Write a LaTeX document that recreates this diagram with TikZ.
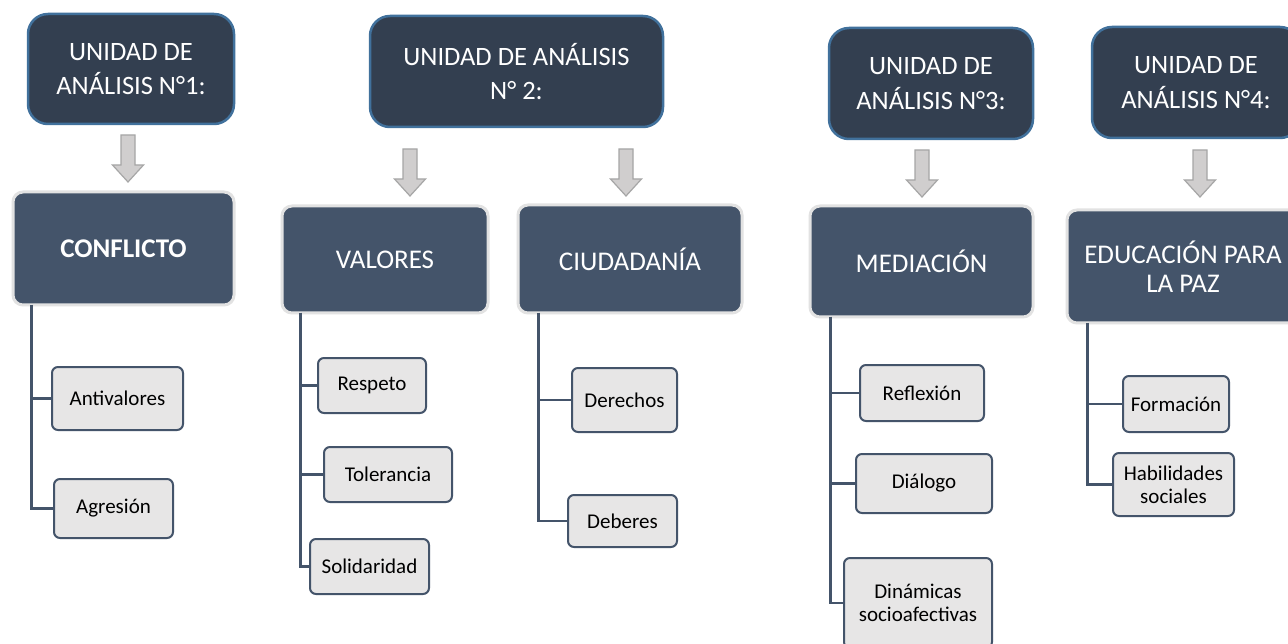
\documentclass[tikz,border=0pt]{standalone}
\usepackage{fontspec}
\setmainfont{Carlito}
\definecolor{topfill}{HTML}{333F50}
\definecolor{topborder}{HTML}{41719C}
\definecolor{catfill}{HTML}{44546A}
\definecolor{catborder}{HTML}{E2E2E2}
\definecolor{leaffill}{HTML}{E7E6E6}
\definecolor{leafborder}{HTML}{44546A}
\definecolor{arrowfill}{HTML}{D0CECE}
\definecolor{arrowborder}{HTML}{A6A6A6}
\tikzset{
 unit/.style={rectangle, rounded corners=20pt, fill=topfill, draw=topborder, line width=2.5pt, text=white, font=\fontsize{26.5}{34.5}\selectfont, align=center, inner sep=0pt},
 cat/.style={rectangle, rounded corners=10pt, fill=catfill, draw=catborder, line width=3pt, text=white, font=\fontsize{27}{29}\selectfont, align=center, inner sep=0pt},
 leaf/.style={rectangle, rounded corners=6pt, fill=leaffill, draw=leafborder, line width=2pt, font=\fontsize{21}{23}\selectfont, align=center, inner sep=0pt},
 conn/.style={draw=leafborder, line width=2.5pt},
 garrow/.style={fill=arrowfill, draw=arrowborder, line width=1.2pt, line join=miter},
 downarr/.pic={\draw[garrow] (-7pt,0pt) -- (7pt,0pt) -- (7pt,-30pt) -- (15.5pt,-30pt) -- (0pt,-47pt) -- (-15.5pt,-30pt) -- (-7pt,-30pt) -- cycle;}
}
\begin{document}
\begin{tikzpicture}[x=1pt,y=-1pt]
\clip (0,0) rectangle (1288,644);
\fill[white] (0,0) rectangle (1288,644);
% top units
\node[unit, minimum width=206pt, minimum height=110pt] (u1) at (131,69) {UNIDAD DE\\ANÁLISIS N°1:};
\node[unit, minimum width=293pt, minimum height=111pt] (u2) at (516.5,71.5) {UNIDAD DE ANÁLISIS\\N° 2:};
\node[unit, minimum width=204pt, minimum height=111pt] (u3) at (931,83.5) {UNIDAD DE\\ANÁLISIS N°3:};
\node[unit, minimum width=208pt, minimum height=111pt] (u4) at (1196,82.5) {UNIDAD DE\\ANÁLISIS N°4:};
% arrows
\pic at (128,135) {downarr};
\pic at (410,149) {downarr};
\pic at (626,149) {downarr};
\pic at (922,150) {downarr};
\pic at (1200,150) {downarr};
% leaves
\node[leaf, minimum width=131pt, minimum height=63pt] (anti) at (117.5,398.5) {Antivalores};
\node[leaf, minimum width=119pt, minimum height=59pt] (agre) at (113.5,508.5) {Agresión};
\node[leaf, minimum width=108pt, minimum height=55pt] (resp) at (372,385.5) {Respeto};
\node[leaf, minimum width=128pt, minimum height=55pt] (tole) at (388,474.5) {Tolerancia};
\node[leaf, minimum width=119pt, minimum height=55pt] (soli) at (369.5,566.5) {Solidaridad};
\node[leaf, minimum width=105pt, minimum height=64pt] (dere) at (624.5,400) {Derechos};
\node[leaf, minimum width=109pt, minimum height=52pt] (debe) at (622.5,521) {Deberes};
\node[leaf, minimum width=124pt, minimum height=56pt] (refl) at (922,393) {Reflexión};
\node[leaf, minimum width=136pt, minimum height=59pt] (dial) at (924,483.5) {Diálogo};
\node[leaf, minimum width=148pt, minimum height=90pt] (dina) at (918,603) {Dinámicas\\socioafectivas};
\node[leaf, minimum width=106pt, minimum height=56pt] (form) at (1176,404) {Formación};
\node[leaf, minimum width=121pt, minimum height=63pt] (habi) at (1173.5,484.5) {Habilidades\\sociales};
% categories
\node[cat, minimum width=221pt, minimum height=113pt] (conf) at (123.5,248.5) {\bfseries CONFLICTO};
\node[cat, minimum width=206pt, minimum height=107pt] (valo) at (385,259.5) {VALORES};
\node[cat, minimum width=224pt, minimum height=108pt] (ciud) at (630,259) {CIUDADANÍA};
\node[cat, minimum width=223pt, minimum height=111pt] (medi) at (921.5,261.5) {MEDIACIÓN};
\node[cat, minimum width=232pt, minimum height=113pt] (educ) at (1183,266.5) {EDUCACIÓN PARA\\LA PAZ};
% connectors
\draw[conn] ([xshift=20pt,yshift=1.5pt]conf.south west) |- (anti.west);
\draw[conn] ([xshift=20pt,yshift=1.5pt]conf.south west) |- (agre.west);
\draw[conn] ([xshift=20pt,yshift=1.5pt]valo.south west) |- (resp.west);
\draw[conn] ([xshift=20pt,yshift=1.5pt]valo.south west) |- (tole.west);
\draw[conn] ([xshift=20pt,yshift=1.5pt]valo.south west) |- (soli.west);
\draw[conn] ([xshift=22pt,yshift=1.5pt]ciud.south west) |- (dere.west);
\draw[conn] ([xshift=22pt,yshift=1.5pt]ciud.south west) |- (debe.west);
\draw[conn] ([xshift=22pt,yshift=1.5pt]medi.south west) |- (refl.west);
\draw[conn] ([xshift=22pt,yshift=1.5pt]medi.south west) |- (dial.west);
\draw[conn] ([xshift=22pt,yshift=1.5pt]medi.south west) |- (dina.west);
\draw[conn] ([xshift=22pt,yshift=1.5pt]educ.south west) |- (form.west);
\draw[conn] ([xshift=22pt,yshift=1.5pt]educ.south west) |- (habi.west);
\end{tikzpicture}
\end{document}
